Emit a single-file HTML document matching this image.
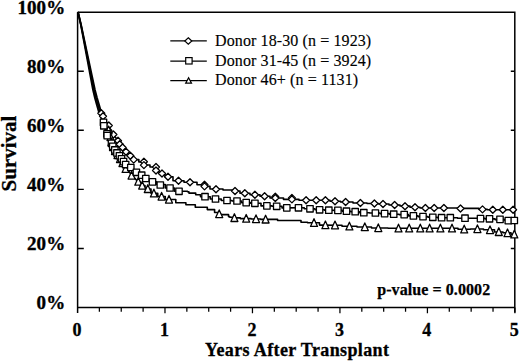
<!DOCTYPE html>
<html><head><meta charset="utf-8"><style>
html,body{margin:0;padding:0;background:#fff;width:520px;height:361px;overflow:hidden;}
#c{position:relative;width:520px;height:361px;}
svg{position:absolute;left:0;top:0;}
.t{position:absolute;font-family:"Liberation Serif",serif;white-space:nowrap;color:#000;line-height:1;}
.b{font-weight:bold;}
.yl{font-size:19px;font-weight:bold;right:454.8px;text-align:right;letter-spacing:0.05px;-webkit-text-stroke:0.35px #000;}
.xl{font-size:18px;font-weight:bold;width:40px;text-align:center;-webkit-text-stroke:0.3px #000;}
.lg{font-size:16px;left:215px;letter-spacing:0.11px;-webkit-text-stroke:0.15px #000;}
</style></head><body><div id="c">
<svg width="520" height="361" viewBox="0 0 520 361"><g stroke="#000" stroke-width="1.4" fill="none"><path d="M77.6 12.3H514.8V312.5M77.6 12.3V313M77 307.5H515" stroke-width="1.5"/><path d="M99.37 307.5V311.8 M121.24 307.5V311.8 M143.11 307.5V311.8 M164.98 307.5V313.2 M186.85 307.5V311.8 M208.72 307.5V311.8 M230.59 307.5V311.8 M252.46 307.5V313.2 M274.33 307.5V311.8 M296.20 307.5V311.8 M318.07 307.5V311.8 M339.94 307.5V313.2 M361.81 307.5V311.8 M383.68 307.5V311.8 M405.55 307.5V311.8 M427.42 307.5V313.2 M449.29 307.5V311.8 M471.16 307.5V311.8 M493.03 307.5V311.8 M514.90 307.5V313.2" stroke-width="1.25"/><path d="M77.5 248.44H83.8 M514.8 248.44H510.8 M77.5 189.38H83.8 M514.8 189.38H510.8 M77.5 130.32H83.8 M514.8 130.32H510.8 M77.5 71.26H83.8 M514.8 71.26H510.8"/></g><g stroke="#000" stroke-width="1.6" fill="none" stroke-linejoin="round"><polyline points="78,12 80.8267,25 83.6267,40 85.4933,50 87.36,60 90.16,75 92.96,90 94.8533,98 96.8,105 98.8,112" stroke-width="1.7"/><polyline points="78,12 81,25 84,40 86,50 88,60 91,75 94,90 96,98 98,105 100,112" stroke-width="1.7"/><polyline points="78,12 81.1733,25 84.3733,40 86.5067,50 88.64,60 91.84,75 95.04,90 97.1467,98 99.2,105 101.2,112" stroke-width="1.7"/><path d="M100 112L103 120L106 127L109 131L112 140L116 148L120 156L125 166L131.5 175L138 181.6H140.00V185.5H142H145.00V189H148H151.00V193.3H154H157.75V196.5H161.5H165.25V199.5H169L175.8 199.5H175.80V202.8H175.8L185.9 202.8H185.90V204.8H185.9L195.3 204.8H195.30V207.3H195.3L207.3 207.3H207.30V209.6H207.3L214.6 209.6H214.60V212.5H214.6L217 212.5H218.10V214H219.2H220.60V214.6H222L228.5 214.6H228.50V216.6H228.5H229.75V217.3H231H232.70V217.9H234.4H240.30V218.6H246.2H251.10V219H256H260.80V219.4H265.6L277.6 219.4H277.60V220.5H277.6L301 220.5H301.00V222.2H301H307.50V222.8H314H319.50V225.1H325L335 225.2H342.00V226.3H349H357.00V227H365H371.50V228H378H388.00V228.3H398L408 228.3L452 228.3H458.00V229.3H464H470.50V229H477H483.50V229.7H490H494.50V232H499H503.00V232.7H507H511.00V234.3H515"/><path d="M100 112L102 121L103.5 122.3L103.8 126L107 134L107.2 136L111.5 143.3L112.75 146.25L114.85 149.95L116.95 152.95L119.45 155.75L121.5 158.75L123.55 161.65L125.65 164.55L131 167.5L136.5 172H139.00V175.5H141.5H144.10V179H146.7H149.60V181.7H152.5H156.50V184.5H160.5H165.25V188H170H174.50V191.3H179L186 191.3H187.45V191.8H188.9H188.90V193.1H188.9L195.7 193.1H195.70V194.8H195.7L200.5 194.8H200.50V196.7H200.5L205 196.7H210.25V199H215.5H221.25V200.5H227H232.00V201H237H241.50V202.6H246H250.50V203.3H255H261.00V205.9H267H272.00V206.3H277H282.00V207.9H287L298.5 207.8H304.25V208.8H310H315.00V209.8H320H324.50V210.2H329L338 210.4H342.25V211.2H346.5H350.75V211.7H355H359.50V212.7H364H369.50V213H375H380.00V213.6H385H389.50V214.2H394H399.00V214.6H404H408.50V215.9H413H418.00V216.6H423H428.00V217.3H433H437.50V217.7H442L450 217.7H457.50V218.2H465L480 218.2H485.00V218.9H490H495.00V219.6H500H505.00V220.5H510L515 220.5"/><path d="M100 112L103 117L108.8 125.5L108.4 130.4L113.4 134.5L118 140.8L119.7 144.2L122.6 147.5L126 151.8L130.3 155.7L133.7 159.6H138.85V162H144H144.00V165H144H150.00V167H156H156.00V170.5H156H159.00V173.5H162H165.00V176.7H168H173.00V180.7H178H184.00V182.2H190H197.00V184.8H204H204.00V186.4H204H210.00V189H216H223.00V190H230H232.50V191H235H240.00V193.3H245H250.00V194.8H255H260.00V196.2H265H270.00V198H275H283.50V199.4H292H299.00V200.2H306L325 200.2H330.00V201.2H335H340.50V202H346H353.00V203H360H367.00V203.5H374H378.50V204H383H389.00V205H395H400.00V206H405H410.00V207.3H415H420.00V208H425L444 208H461.50V208.4H479H479.00V209.4H479L482.5 209.4H487.25V209.8H492L515 209.8"/></g><g stroke="#000" stroke-width="1.3" fill="#fff" stroke-linejoin="round"><path d="M101.3 109.80L104.80 113.3L101.3 116.80L97.80 113.3Z"/><path d="M103 112.80L106.50 116.3L103 119.80L99.50 116.3Z"/><path d="M108.8 122.00L112.30 125.5L108.8 129.00L105.30 125.5Z"/><path d="M108.4 126.90L111.90 130.4L108.4 133.90L104.90 130.4Z"/><path d="M113.4 131.00L116.90 134.5L113.4 138.00L109.90 134.5Z"/><path d="M118 137.30L121.50 140.8L118 144.30L114.50 140.8Z"/><path d="M119.7 140.70L123.20 144.2L119.7 147.70L116.20 144.2Z"/><path d="M122.6 144.00L126.10 147.5L122.6 151.00L119.10 147.5Z"/><path d="M126 148.30L129.50 151.8L126 155.30L122.50 151.8Z"/><path d="M130.3 152.20L133.80 155.7L130.3 159.20L126.80 155.7Z"/><path d="M133.7 156.10L137.20 159.6L133.7 163.10L130.20 159.6Z"/><path d="M143.9 158.20L147.40 161.7L143.9 165.20L140.40 161.7Z"/><path d="M143.9 161.60L147.40 165.1L143.9 168.60L140.40 165.1Z"/><path d="M156 163.50L159.50 167L156 170.50L152.50 167Z"/><path d="M156 167.00L159.50 170.5L156 174.00L152.50 170.5Z"/><path d="M162 170.00L165.50 173.5L162 177.00L158.50 173.5Z"/><path d="M168 173.20L171.50 176.7L168 180.20L164.50 176.7Z"/><path d="M178.5 177.20L182.00 180.7L178.5 184.20L175.00 180.7Z"/><path d="M190 178.70L193.50 182.2L190 185.70L186.50 182.2Z"/><path d="M204.5 181.30L208.00 184.8L204.5 188.30L201.00 184.8Z"/><path d="M204.5 182.90L208.00 186.4L204.5 189.90L201.00 186.4Z"/><path d="M216 185.80L219.50 189.3L216 192.80L212.50 189.3Z"/><path d="M235 187.50L238.50 191L235 194.50L231.50 191Z"/><path d="M244.8 189.80L248.30 193.3L244.8 196.80L241.30 193.3Z"/><path d="M254.9 191.30L258.40 194.8L254.9 198.30L251.40 194.8Z"/><path d="M264.6 192.70L268.10 196.2L264.6 199.70L261.10 196.2Z"/><path d="M275.3 193.10L278.80 196.6L275.3 200.10L271.80 196.6Z"/><path d="M275.3 194.50L278.80 198L275.3 201.50L271.80 198Z"/><path d="M291.9 194.40L295.40 197.9L291.9 201.40L288.40 197.9Z"/><path d="M291.9 195.90L295.40 199.4L291.9 202.90L288.40 199.4Z"/><path d="M306.1 196.70L309.60 200.2L306.1 203.70L302.60 200.2Z"/><path d="M316.2 196.80L319.70 200.3L316.2 203.80L312.70 200.3Z"/><path d="M325.4 196.70L328.90 200.2L325.4 203.70L321.90 200.2Z"/><path d="M335 197.70L338.50 201.2L335 204.70L331.50 201.2Z"/><path d="M345.6 198.50L349.10 202L345.6 205.50L342.10 202Z"/><path d="M360.4 199.50L363.90 203L360.4 206.50L356.90 203Z"/><path d="M374.4 200.00L377.90 203.5L374.4 207.00L370.90 203.5Z"/><path d="M383 200.50L386.50 204L383 207.50L379.50 204Z"/><path d="M394.6 201.50L398.10 205L394.6 208.50L391.10 205Z"/><path d="M405 202.80L408.50 206.3L405 209.80L401.50 206.3Z"/><path d="M415 203.80L418.50 207.3L415 210.80L411.50 207.3Z"/><path d="M425.4 204.50L428.90 208L425.4 211.50L421.90 208Z"/><path d="M434.2 204.50L437.70 208L434.2 211.50L430.70 208Z"/><path d="M443.9 204.50L447.40 208L443.9 211.50L440.40 208Z"/><path d="M460.5 205.00L464.00 208.5L460.5 212.00L457.00 208.5Z"/><path d="M482.5 205.90L486.00 209.4L482.5 212.90L479.00 209.4Z"/><path d="M492.8 206.30L496.30 209.8L492.8 213.30L489.30 209.8Z"/><path d="M502.8 206.30L506.30 209.8L502.8 213.30L499.30 209.8Z"/><path d="M513.1 206.30L516.60 209.8L513.1 213.30L509.60 209.8Z"/><path d="M108.6 126.10L112.10 133.80L105.10 133.80Z"/><path d="M110.5 132.90L114.00 140.60L107.00 140.60Z"/><path d="M111.5 137.90L115.00 145.60L108.00 145.60Z"/><path d="M113 142.90L116.50 150.60L109.50 150.60Z"/><path d="M115 146.90L118.50 154.60L111.50 154.60Z"/><path d="M117.5 150.90L121.00 158.60L114.00 158.60Z"/><path d="M120 154.90L123.50 162.60L116.50 162.60Z"/><path d="M122.5 158.90L126.00 166.60L119.00 166.60Z"/><path d="M125.6 164.70L129.10 172.40L122.10 172.40Z"/><path d="M131.6 171.40L135.10 179.10L128.10 179.10Z"/><path d="M138.3 177.50L141.80 185.20L134.80 185.20Z"/><path d="M142.2 181.40L145.70 189.10L138.70 189.10Z"/><path d="M147.8 184.80L151.30 192.50L144.30 192.50Z"/><path d="M153.9 189.20L157.40 196.90L150.40 196.90Z"/><path d="M161.6 192.40L165.10 200.10L158.10 200.10Z"/><path d="M169 195.40L172.50 203.10L165.50 203.10Z"/><path d="M219.2 209.90L222.70 217.60L215.70 217.60Z"/><path d="M234.4 213.80L237.90 221.50L230.90 221.50Z"/><path d="M246.2 214.50L249.70 222.20L242.70 222.20Z"/><path d="M256 214.90L259.50 222.60L252.50 222.60Z"/><path d="M265.6 215.30L269.10 223.00L262.10 223.00Z"/><path d="M314 218.70L317.50 226.40L310.50 226.40Z"/><path d="M325.4 221.00L328.90 228.70L321.90 228.70Z"/><path d="M335 221.10L338.50 228.80L331.50 228.80Z"/><path d="M349.4 222.20L352.90 229.90L345.90 229.90Z"/><path d="M364.8 222.90L368.30 230.60L361.30 230.60Z"/><path d="M378.3 223.90L381.80 231.60L374.80 231.60Z"/><path d="M398.5 224.20L402.00 231.90L395.00 231.90Z"/><path d="M409.2 224.20L412.70 231.90L405.70 231.90Z"/><path d="M420.3 224.20L423.80 231.90L416.80 231.90Z"/><path d="M429.6 224.20L433.10 231.90L426.10 231.90Z"/><path d="M440.4 224.20L443.90 231.90L436.90 231.90Z"/><path d="M452 224.20L455.50 231.90L448.50 231.90Z"/><path d="M464.2 225.20L467.70 232.90L460.70 232.90Z"/><path d="M477.4 224.90L480.90 232.60L473.90 232.60Z"/><path d="M490 225.90L493.50 233.60L486.50 233.60Z"/><path d="M498.8 227.80L502.30 235.50L495.30 235.50Z"/><path d="M507.5 229.00L511.00 236.70L504.00 236.70Z"/><path d="M514.3 230.20L517.80 237.90L510.80 237.90Z"/><rect x="100.30" y="119.10" width="6.40" height="6.40"/><rect x="100.60" y="122.60" width="6.40" height="6.40"/><rect x="103.80" y="130.60" width="6.40" height="6.40"/><rect x="104.00" y="132.40" width="6.40" height="6.40"/><rect x="108.30" y="140.10" width="6.40" height="6.40"/><rect x="109.55" y="143.05" width="6.40" height="6.40"/><rect x="111.65" y="146.75" width="6.40" height="6.40"/><rect x="113.75" y="149.75" width="6.40" height="6.40"/><rect x="116.25" y="152.55" width="6.40" height="6.40"/><rect x="118.30" y="155.55" width="6.40" height="6.40"/><rect x="120.35" y="158.45" width="6.40" height="6.40"/><rect x="122.45" y="161.35" width="6.40" height="6.40"/><rect x="127.60" y="164.30" width="6.40" height="6.40"/><rect x="133.20" y="169.10" width="6.40" height="6.40"/><rect x="138.50" y="172.00" width="6.40" height="6.40"/><rect x="142.60" y="175.30" width="6.40" height="6.40"/><rect x="149.30" y="178.70" width="6.40" height="6.40"/><rect x="157.10" y="181.80" width="6.40" height="6.40"/><rect x="166.80" y="184.80" width="6.40" height="6.40"/><rect x="175.80" y="188.10" width="6.40" height="6.40"/><rect x="201.80" y="193.50" width="6.40" height="6.40"/><rect x="212.30" y="195.80" width="6.40" height="6.40"/><rect x="223.80" y="197.30" width="6.40" height="6.40"/><rect x="233.80" y="197.80" width="6.40" height="6.40"/><rect x="243.00" y="199.40" width="6.40" height="6.40"/><rect x="251.70" y="200.10" width="6.40" height="6.40"/><rect x="263.70" y="202.70" width="6.40" height="6.40"/><rect x="273.50" y="203.10" width="6.40" height="6.40"/><rect x="283.60" y="204.70" width="6.40" height="6.40"/><rect x="295.30" y="204.60" width="6.40" height="6.40"/><rect x="306.80" y="205.60" width="6.40" height="6.40"/><rect x="316.40" y="206.60" width="6.40" height="6.40"/><rect x="325.60" y="207.00" width="6.40" height="6.40"/><rect x="334.70" y="207.20" width="6.40" height="6.40"/><rect x="343.30" y="208.00" width="6.40" height="6.40"/><rect x="352.00" y="208.50" width="6.40" height="6.40"/><rect x="360.60" y="209.50" width="6.40" height="6.40"/><rect x="372.20" y="209.80" width="6.40" height="6.40"/><rect x="381.40" y="210.40" width="6.40" height="6.40"/><rect x="390.50" y="211.00" width="6.40" height="6.40"/><rect x="401.00" y="211.40" width="6.40" height="6.40"/><rect x="410.20" y="212.70" width="6.40" height="6.40"/><rect x="419.80" y="213.40" width="6.40" height="6.40"/><rect x="429.60" y="214.10" width="6.40" height="6.40"/><rect x="438.40" y="214.50" width="6.40" height="6.40"/><rect x="447.10" y="214.50" width="6.40" height="6.40"/><rect x="461.80" y="215.00" width="6.40" height="6.40"/><rect x="477.30" y="215.40" width="6.40" height="6.40"/><rect x="486.30" y="215.60" width="6.40" height="6.40"/><rect x="496.80" y="216.20" width="6.40" height="6.40"/><rect x="505.10" y="217.40" width="6.40" height="6.40"/><rect x="511.10" y="217.30" width="6.40" height="6.40"/></g><g stroke="#000" stroke-width="1.2" fill="#fff"><path d="M170.3 40.8H206.8M170.3 61.2H206.8M170.3 80.6H206.8" fill="none"/><path d="M188.3 37.80L191.80 41L188.3 44.20L184.80 41Z"/><rect x="185.70" y="57.60" width="6.40" height="6.40"/><path d="M188.6 77.70L191.50 83.20L185.70 83.20Z"/></g></svg>
<div class="t yl" style="top:-2.1px">100%</div>
<div class="t yl" style="top:56.9px">80%</div>
<div class="t yl" style="top:115.9px">60%</div>
<div class="t yl" style="top:174.9px">40%</div>
<div class="t yl" style="top:233.9px">20%</div>
<div class="t yl" style="top:292.9px">0%</div>
<div class="t xl" style="top:321.1px;left:57px">0</div>
<div class="t xl" style="top:321.1px;left:144.5px">1</div>
<div class="t xl" style="top:321.1px;left:231.9px">2</div>
<div class="t xl" style="top:321.1px;left:319.4px">3</div>
<div class="t xl" style="top:321.1px;left:406.8px">4</div>
<div class="t xl" style="top:321.1px;left:494.3px">5</div>
<div class="t b" style="font-size:18px;left:205px;top:341px;letter-spacing:0.38px;-webkit-text-stroke:0.3px #000">Years After Transplant</div>
<div class="t b" style="font-size:21px;left:-31px;top:142.9px;-webkit-text-stroke:0.3px #000;transform:rotate(-90deg);transform-origin:50% 50%;width:80px;text-align:center">Survival</div>
<div class="t lg" style="top:33px">Donor 18-30 (n = 1923)</div>
<div class="t lg" style="top:53px">Donor 31-45 (n = 3924)</div>
<div class="t lg" style="top:72.3px">Donor 46+ (n = 1131)</div>
<div class="t b" style="font-size:16px;left:377.2px;top:282px;letter-spacing:0.08px;-webkit-text-stroke:0.25px #000">p-value = 0.0002</div>
</div></body></html>
